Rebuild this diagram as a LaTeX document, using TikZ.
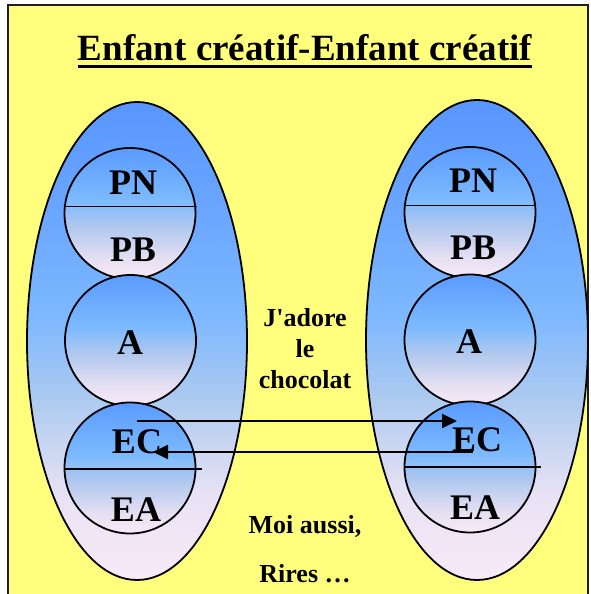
\documentclass[tikz,border=0pt]{standalone}
\usepackage{fontspec}
\setmainfont{Liberation Serif}
\usetikzlibrary{shapes.geometric,arrows.meta}

% palette
\definecolor{paper}{RGB}{255,255,125}
\definecolor{framecol}{RGB}{30,30,30}
\definecolor{lav}{RGB}{248,234,248}
\definecolor{eggA}{RGB}{232,226,244}
\definecolor{eggB}{RGB}{172,202,240}
\definecolor{eggC}{RGB}{125,184,255}
\definecolor{eggD}{RGB}{108,168,255}
\definecolor{eggE}{RGB}{88,150,255}
\definecolor{ballA}{RGB}{230,224,242}
\definecolor{ballB}{RGB}{176,200,238}
\definecolor{ballC}{RGB}{124,186,255}
\definecolor{ballD}{RGB}{90,155,255}

% vertical gradients: 25bp = bottom of the shape, 75bp = top
\pgfdeclareverticalshading{eggshade}{100bp}{color(0bp)=(lav); color(25bp)=(lav);
  color(34bp)=(eggA); color(44bp)=(eggB); color(52.5bp)=(eggC);
  color(62.5bp)=(eggD); color(75bp)=(eggE); color(100bp)=(eggE)}
\pgfdeclareverticalshading{ballshade}{100bp}{color(0bp)=(lav); color(25bp)=(lav);
  color(32.5bp)=(ballA); color(45bp)=(ballB); color(55bp)=(ballC);
  color(75bp)=(ballD); color(100bp)=(ballD)}

\tikzset{
  egg/.style={ellipse, draw, line width=1.8pt, inner sep=0pt, shade, shading=eggshade,
    minimum width=220pt, minimum height=478pt},
  ball/.style={circle, draw, line width=1.8pt, inner sep=0pt, shade, shading=ballshade,
    minimum size=131pt},
  divider/.style={line width=1.8pt},
  lab/.style={font=\rmfamily\fontsize{36}{40}\selectfont\bfseries, anchor=base, inner sep=0pt},
  talk/.style={font=\rmfamily\fontsize{26}{31}\selectfont\bfseries, align=center, anchor=base, inner sep=0pt},
  msg/.style={line width=2pt, -{Triangle[length=15pt,width=14pt]}},
}

\begin{document}
\begin{tikzpicture}[x=1pt,y=1pt]
\useasboundingbox (0,0) rectangle (590,594);
\fill[white] (0,0) rectangle (590,594);
\fill[paper] (8,-5) rectangle (588,589);
\draw[framecol, line width=2pt] (8,-5) rectangle (588,589);

% title
\node[font=\rmfamily\fontsize{37}{40}\selectfont\bfseries, anchor=base, inner sep=0pt] (title) at (305,533)
  {Enfant créatif-Enfant créatif};
\draw[line width=3pt] ([yshift=-6pt]title.base west) -- ([yshift=-6pt]title.base east);

% the two persons
\node[egg] (lego) at (137,253) {};
\node[egg, minimum width=222pt, minimum height=480pt] (rego) at (477,254) {};

% ego states, left
\node[ball] (lpn) at (130,380.5) {};
\node[ball] (la)  at (130.5,253.5) {};
\node[ball] (lec) at (130,126) {};
% ego states, right
\node[ball] (rpn) at (470,381.5) {};
\node[ball] (ra)  at (470,254) {};
\node[ball] (rec) at (470,127) {};

% split lines
\draw[divider] (lpn.174) -- +(133,0);
\draw[divider] (lec.181) -- +(138,0);
\draw[divider] (rpn.174) -- +(132,0);
\draw[divider] (rec.180) -- +(137,0);

% labels, left
\node[lab] (tlpn) at (133,399) {PN};
\node[lab] (tlpb) at (133,332) {PB};
\node[lab] (tla)  at (130,239) {A};
\node[lab] (tlec) at (137,140) {EC};
\node[lab] (tlea) at (136,72)  {EA};
% labels, right
\node[lab] (trpn) at (473,401) {PN};
\node[lab] (trpb) at (473,334) {PB};
\node[lab] (tra)  at (469,240) {A};
\node[lab] (trec) at (477,142) {EC};
\node[lab] (trea) at (475,74)  {EA};

% exchanged words (base = baseline of the last line)
\node[talk] (say) at (305,205) {J\textquotesingle adore\\le\\chocolat};
\node[talk, font=\rmfamily\fontsize{26}{49}\selectfont\bfseries] (reply) at (305,12) {Moi aussi,\\Rires …};

% transactions
\coordinate (s1) at (137,173);
\coordinate (e1) at (457,173);
\coordinate (s2) at (473,142);
\coordinate (e2) at (153,142);
\draw[msg] (s1) -- (e1);
\draw[msg] (s2) -- (e2);
\end{tikzpicture}
\end{document}
